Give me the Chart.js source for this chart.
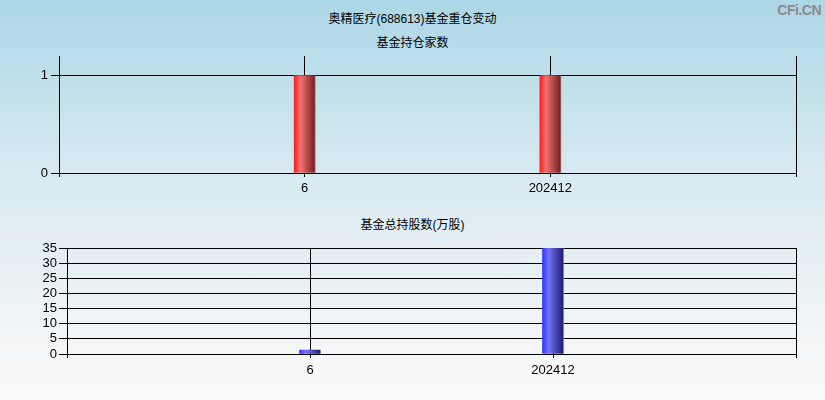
<!DOCTYPE html>
<html>
<head>
<meta charset="utf-8">
<script src="https://cdn.jsdelivr.net/npm/chart.js@4"></script>
<style>
  html, body { margin: 0; padding: 0; }
  body {
    width: 825px; height: 400px; position: relative; overflow: hidden;
    background: linear-gradient(to bottom, #acd7e6 0%, #d9eaf1 45%, #fcf9f9 100%);
    font-family: "Liberation Sans", Arial, "Noto Sans CJK SC", sans-serif;
  }
  canvas { position: absolute; left: 0; }
  .txt { position: absolute; left: 0; width: 825px; text-align: center; font-size: 12px; line-height: 14px; color: #000; }
  #mark { position: absolute; right: 4px; top: 2px; font-size: 14px; font-weight: bold; color: #8a8a8a; letter-spacing: -0.5px; }
</style>
</head>
<body>
<div class="txt" style="top:12px">奥精医疗(688613)基金重仓变动</div>
<div class="txt" style="top:36px">基金持仓家数</div>
<div class="txt" style="top:218px">基金总持股数(万股)</div>
<div id="mark">CFi.CN</div>
<canvas id="count-chart" width="825" height="200" style="top:0"></canvas>
<canvas id="shares-chart" width="825" height="200" style="top:200px"></canvas>
<script>
    // categories on the x axis (empty slots at both ends)
    const categories = ['', '6', '202412', ''];
    // number of funds holding
    const fundCount = [null, 1, 1, null];
    // total fund holdings, 10k shares
    const fundShares = [null, 1.3, 35, null];
    const countTicks = [0, 1];
    const shareTicks = [0, 5, 10, 15, 20, 25, 30, 35];

    const tickFont = { family: '"Liberation Sans", Arial, sans-serif', size: 13 };

    // horizontal "cylinder" gradient for each bar
    function barGradient(colors) {
        return function (ctx) {
            const chart = ctx.chart;
            if (!chart.chartArea || !chart.scales.x) return colors[0];
            const cx = chart.scales.x.getPixelForValue(ctx.dataIndex);
            const g = chart.ctx.createLinearGradient(cx - 10.5, 0, cx + 10.5, 0);
            g.addColorStop(0, colors[0]);
            g.addColorStop(0.3, colors[1]);
            g.addColorStop(0.95, colors[2]);
            g.addColorStop(1, colors[3]);
            return g;
        };
    }

    function makeChart(canvas, values, yMax, ticks, colors, box) {
        return new Chart(canvas.getContext('2d'), {
            type: 'bar',
            data: {
                labels: categories,
                datasets: [{
                    data: values,
                    backgroundColor: barGradient(colors),
                    borderWidth: 0,
                    barThickness: 21
                }]
            },
            options: {
                responsive: false,
                animation: false,
                layout: { padding: { top: box.top, right: 29, bottom: 0, left: 0 } },
                plugins: { legend: { display: false }, tooltip: { enabled: false }, title: { display: false } },
                scales: {
                    x: {
                        offset: false,
                        grid: { offset: false, color: '#000', lineWidth: 1, tickLength: 4, drawTicks: true },
                        border: { color: '#000', width: 1 },
                        ticks: { color: '#000', font: tickFont, padding: box.xPad, autoSkip: false, maxRotation: 0 },
                        afterFit: scale => { scale.height = box.xHeight; }
                    },
                    y: {
                        min: 0,
                        max: yMax,
                        grid: { color: '#000', lineWidth: 1, tickLength: 8 },
                        border: { color: '#000', width: 1 },
                        ticks: { color: '#000', font: tickFont, padding: box.yPad, autoSkip: false },
                        afterBuildTicks: scale => { scale.ticks = ticks.map(v => ({ value: v })); },
                        afterFit: scale => { scale.width = box.yWidth; }
                    }
                }
            }
        });
    }

    makeChart(document.querySelector('#count-chart'), fundCount, 1.2, countTicks,
        ['#ff1e1e', '#f07272', '#7e2222', '#8a7070'],
        { top: 56, xHeight: 27, yWidth: 59, xPad: 4, yPad: 3 });

    makeChart(document.querySelector('#shares-chart'), fundShares, 35, shareTicks,
        ['#3434ff', '#7474f2', '#20207e', '#707088'],
        { top: 48, xHeight: 46, yWidth: 67, xPad: 5, yPad: 2 });
</script>
</body>
</html>
